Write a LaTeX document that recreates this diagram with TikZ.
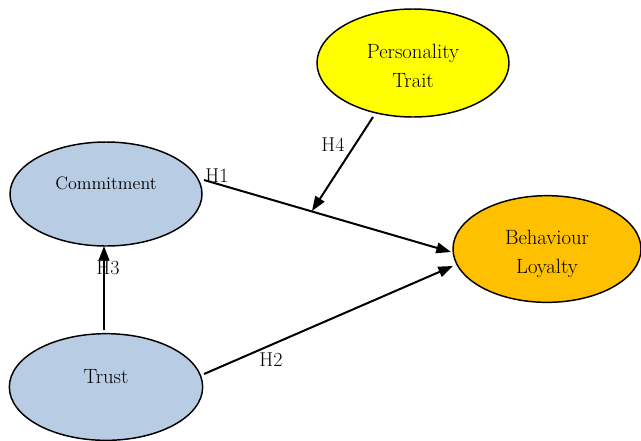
\documentclass[tikz,border=0pt]{standalone}
\usetikzlibrary{shapes.geometric,arrows.meta}
\begin{document}
\begin{tikzpicture}[x=0.75pt,y=-0.75pt,
  ell/.style={draw,line width=1.1pt,ellipse,inner sep=0pt,align=center},
  conn/.style={line width=1.5pt,-{Triangle[length=11pt,width=8pt]}},
  hlab/.style={font=\fontsize{15}{17}\selectfont,inner sep=0pt}]
\useasboundingbox (0,0) rectangle (641,440);
\definecolor{blueish}{RGB}{184,204,228}
\definecolor{yel}{RGB}{255,255,0}
\definecolor{orng}{RGB}{255,192,0}
\node[ell,fill=blueish,minimum width=144pt,minimum height=78pt] (com) at (106,194) {};
\node[font=\fontsize{13.5}{15}\selectfont] (comt) at (106,183) {Commitment};
\node[ell,fill=blueish,minimum width=145pt,minimum height=80pt] (tru) at (106,387) {};
\node[font=\fontsize{15.5}{17}\selectfont] (trut) at (106,377) {Trust};
\node[ell,fill=yel,minimum width=144pt,minimum height=81pt] (per) at (413,63) {};
\node[font=\fontsize{15.5}{22}\selectfont,align=center] (pert) at (413,66) {Personality\\Trait};
\node[ell,fill=orng,minimum width=141pt,minimum height=80pt] (beh) at (547,249) {};
\node[font=\fontsize{15.5}{22}\selectfont,align=center] (beht) at (547,254) {Behaviour\\Loyalty};
\coordinate (h1s) at (204,180);
\coordinate (h1e) at (451,252);
\coordinate (h4e) at (312,211);
\coordinate (h4s) at (373,117);
\coordinate (h2s) at (204,374);
\coordinate (h2e) at (453,266);
\coordinate (h3s) at (104,330);
\coordinate (h3e) at (104,246);
\draw[conn] (h1s) -- (h1e);
\draw[conn] (h4s) -- (h4e);
\draw[conn] (h2s) -- (h2e);
\draw[conn] (h3s) -- (h3e);
\node[hlab] (l1) at (217,176) {H1};
\node[hlab] (l4) at (333,145) {H4};
\node[hlab] (l3) at (108,268) {H3};
\node[hlab] (l2) at (271,360) {H2};
\end{tikzpicture}
\end{document}
